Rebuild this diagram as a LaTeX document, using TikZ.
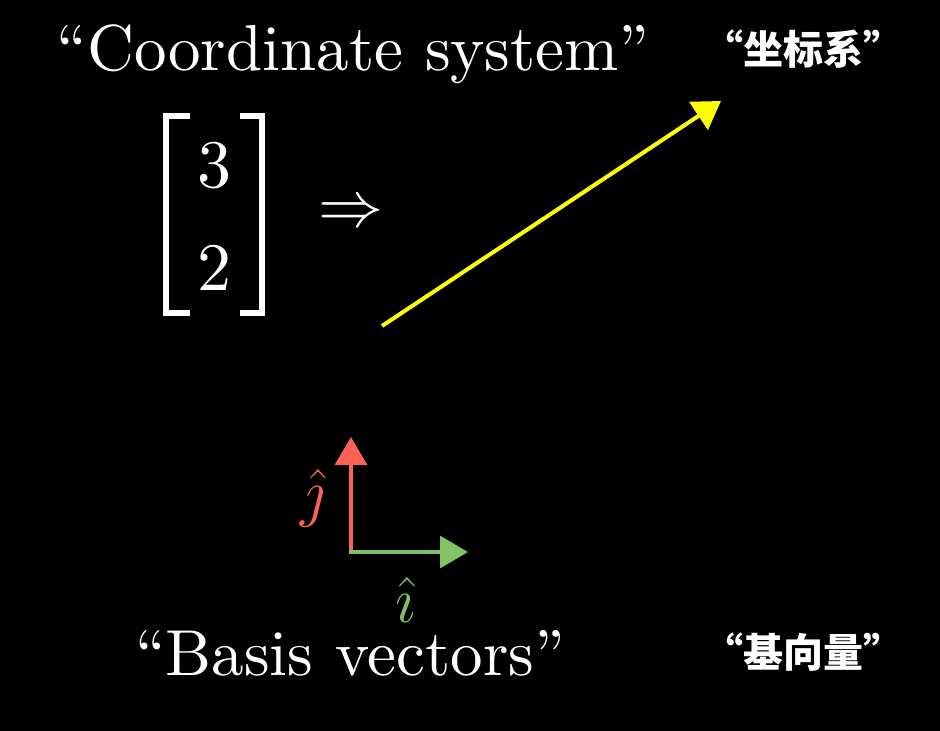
\documentclass[tikz,border=0pt]{standalone}
\usepackage{fix-cm}
\usepackage{fontspec}
\setmainfont{lmroman10-regular}[Extension=.otf,ItalicFont=lmroman10-italic]
\newfontfamily\cjk{Noto Sans CJK SC}
\usetikzlibrary{arrows.meta}
\definecolor{vecyellow}{HTML}{FFFF00}
\definecolor{ihatgreen}{HTML}{83C167}
\definecolor{jhatred}{HTML}{FC6255}
\tikzset{
  >=latex,
}
\tikzstyle{every node}=[text=white,inner sep=0pt]
\tikzstyle{big}=[font=\fontsize{65}{70}\selectfont]
\tikzstyle{cn}=[font=\cjk\bfseries\fontsize{40}{44}\selectfont]
\tikzstyle{bracket}=[white,line width=6pt]
\tikzstyle{basisvec}=[line width=3.3pt,-{Triangle[length=28pt,width=32pt]}]

\begin{document}
\begin{tikzpicture}[x=1pt,y=-1pt]
        \fill[black] (0,0) rectangle (940,731);
        \useasboundingbox (0,0) rectangle (940,731);
        \node[big,anchor=base] (title) at (353,70) {“Coordinate system”};
        \node[cn] (titlecn) at (803,49) {“坐标系”};
        \draw[bracket] (190,116)--(166,116)--(166,313)--(190,313);
        \draw[bracket] (240,116)--(262,116)--(262,313)--(240,313);
        \node[font=\fontsize{68}{72}\selectfont] (entry3) at (214,166) {3};
        \node[font=\fontsize{68}{72}\selectfont] (entry2) at (214,268) {2};
        \node[big] (implies) at (351,215) {$\Rightarrow$};
        \coordinate (vstart) at (382,326);
        \coordinate (vtip) at (721,101);
        \draw[vecyellow,line width=4pt,-{Triangle[length=27pt,width=33pt]}] (vstart)--(vtip);
        \coordinate (origin) at (351,552);
        \coordinate (jtip) at (351,437);
        \coordinate (itip) at (468,552);
        \draw[basisvec,jhatred] ([yshift=1.6pt]origin)--(jtip);
        \draw[basisvec,ihatgreen] ([xshift=-1.6pt]origin)--(itip);
        \node[big,text=jhatred] (jlabel) at (313,498) {$\hat{\jmath}$};
        \node[big,text=ihatgreen] (ilabel) at (406,600) {$\hat{\imath}$};
        \node[big,anchor=base] (basis) at (350,675) {“Basis vectors”};
        \node[cn] (basiscn) at (803,652) {“基向量”};
      \end{tikzpicture}
\end{document}
